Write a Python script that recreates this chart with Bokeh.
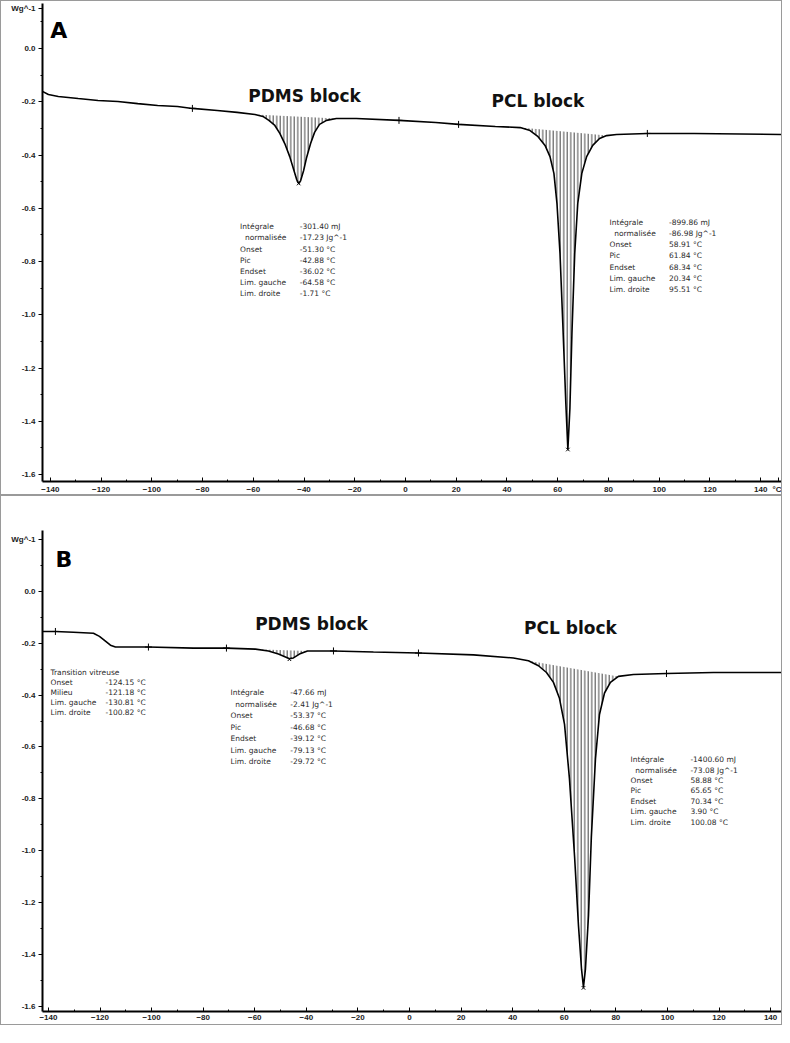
import numpy as np
from bokeh.plotting import figure
from bokeh.layouts import column
from bokeh.models import Range1d, FixedTicker, PrintfTickFormatter
from bokeh.core.properties import value
from bokeh.embed import file_html
from bokeh.resources import INLINE

# ---------------- Panel A data (temperature °C, heat flow W/g) ----------------
a_temp = [-143.13, -140.78, -136.87, -129.04, -121.21, -113.38, -105.54, -97.71, -89.88, -84.01,
          -74.22, -66.39, -59.34, -56.21, -53.86, -51.51, -49.55, -47.60, -45.64, -44.07,
          -42.90, -42.11, -41.33, -40.16, -38.98, -37.42, -35.85, -33.89, -31.15, -27.24,
          -19.41, -2.57, 11.92, 20.92, 35.41, 45.20, 49.10, 52.25, 55.00, 56.95,
          58.50, 59.70, 60.90, 62.00, 63.20, 64.00, 64.80, 65.60, 66.70, 67.90,
          69.50, 71.40, 73.80, 76.50, 79.30, 83.20, 95.33, 113.73, 148.96]
a_heat = [-0.161, -0.173, -0.180, -0.188, -0.195, -0.199, -0.207, -0.214, -0.218, -0.225,
          -0.233, -0.240, -0.248, -0.255, -0.270, -0.289, -0.319, -0.357, -0.406, -0.455,
          -0.492, -0.507, -0.496, -0.458, -0.409, -0.357, -0.315, -0.285, -0.270, -0.263,
          -0.263, -0.270, -0.278, -0.285, -0.293, -0.297, -0.308, -0.331, -0.364, -0.406,
          -0.469, -0.582, -0.770, -1.033, -1.333, -1.506, -1.352, -1.070, -0.770, -0.582,
          -0.469, -0.406, -0.364, -0.338, -0.327, -0.323, -0.319, -0.319, -0.323]
a_pdms_limits = [-59.4, -27.2]
a_pcl_limits = [45.1, 79.4]
a_marker_temp = [-84.01, -2.57, 20.92, 95.33]
a_marker_heat = [-0.225, -0.270, -0.285, -0.319]
a_peak_temp = [-42.11, 64.00]
a_peak_heat = [-0.507, -1.506]
a_pdms_names = ["Intégrale", "\u00a0\u00a0normalisée", "Onset", "Pic", "Endset", "Lim. gauche", "Lim. droite"]
a_pdms_values = ["-301.40 mJ", "-17.23 Jg^-1", "-51.30 °C", "-42.88 °C", "-36.02 °C", "-64.58 °C", "-1.71 °C"]
a_pcl_names = ["Intégrale", "\u00a0\u00a0normalisée", "Onset", "Pic", "Endset", "Lim. gauche", "Lim. droite"]
a_pcl_values = ["-899.86 mJ", "-86.98 Jg^-1", "58.91 °C", "61.84 °C", "68.34 °C", "20.34 °C", "95.51 °C"]

# ---------------- Panel B data ----------------
b_temp = [-142.33, -137.29, -130.31, -122.55, -120.22, -117.90, -115.96, -114.02, -101.23, -83.78,
          -70.98, -59.74, -54.70, -50.83, -48.11, -46.56, -45.01, -42.68, -39.58, -29.49,
          -13.98, 3.47, 24.80, 40.30, 46.10, 50.00, 53.10, 55.80, 58.10, 60.10,
          62.00, 64.00, 65.50, 66.70, 67.44, 68.20, 69.40, 70.50, 72.10, 73.65,
          75.60, 77.90, 81.00, 86.80, 99.63, 117.85, 145.0]
b_heat = [-0.155, -0.155, -0.158, -0.162, -0.174, -0.192, -0.208, -0.215, -0.215, -0.219,
          -0.219, -0.223, -0.230, -0.242, -0.253, -0.260, -0.257, -0.242, -0.230, -0.230,
          -0.234, -0.238, -0.245, -0.257, -0.268, -0.287, -0.313, -0.351, -0.411, -0.513,
          -0.721, -1.023, -1.287, -1.457, -1.525, -1.457, -1.249, -0.947, -0.645, -0.475,
          -0.392, -0.351, -0.328, -0.321, -0.317, -0.313, -0.313]
b_pdms_limits = [-59.8, -39.5]
b_pcl_limits = [46.0, 81.1]
b_marker_temp = [-137.29, -101.23, -70.98, -29.49, 3.47, 99.63]
b_marker_heat = [-0.155, -0.215, -0.219, -0.230, -0.238, -0.317]
b_peak_temp = [-46.56, 67.44]
b_peak_heat = [-0.262, -1.528]
b_tg_names = ["Transition vitreuse", "Onset", "Milieu", "Lim. gauche", "Lim. droite"]
b_tg_values = ["", "-124.15 °C", "-121.18 °C", "-130.81 °C", "-100.82 °C"]
b_pdms_names = ["Intégrale", "\u00a0\u00a0normalisée", "Onset", "Pic", "Endset", "Lim. gauche", "Lim. droite"]
b_pdms_values = ["-47.66 mJ", "-2.41 Jg^-1", "-53.37 °C", "-46.68 °C", "-39.12 °C", "-79.13 °C", "-29.72 °C"]
b_pcl_names = ["Intégrale", "\u00a0\u00a0normalisée", "Onset", "Pic", "Endset", "Lim. gauche", "Lim. droite"]
b_pcl_values = ["-1400.60 mJ", "-73.08 Jg^-1", "58.88 °C", "65.65 °C", "70.34 °C", "3.90 °C", "100.08 °C"]

x_ticks = [-140, -120, -100, -80, -60, -40, -20, 0, 20, 40, 60, 80, 100, 120, 140]
y_ticks = [-1.6, -1.4, -1.2, -1.0, -0.8, -0.6, -0.4, -0.2, 0.0]

TXT = "#2a2a2a"


def make_panel(temp, heat, xr, yr, height, left, top, bottom, unit_tick, limits,
               mtemp, mheat, ptemp, pheat, letter, letter_pos, titles, boxes, degc):
    p = figure(width=782, height=height, output_backend="svg", toolbar_location=None,
               x_range=Range1d(*xr), y_range=Range1d(*yr),
               min_border_left=left, min_border_right=0, min_border_top=top,
               min_border_bottom=bottom)
    p.outline_line_color = None
    p.grid.visible = False
    p.styles = {"border": "1px solid #9a9a9a", "box-sizing": "border-box"}

    xt = list(x_ticks)
    overrides = {}
    if degc:
        xt.append(147)
        overrides[147] = "°C"
    p.xaxis.ticker = FixedTicker(ticks=xt, minor_ticks=list(np.arange(-130, 150, 20)))
    p.xaxis.major_label_overrides = overrides
    yt = list(y_ticks) + [unit_tick]
    p.yaxis.ticker = FixedTicker(ticks=yt, minor_ticks=list(np.round(np.arange(-1.5, 0.25, 0.2), 1)))
    p.yaxis.formatter = PrintfTickFormatter(format="%.1f")
    p.yaxis.major_label_overrides = {unit_tick: "Wg^-1"}

    for ax in (p.xaxis[0], p.yaxis[0]):
        ax.axis_line_width = 2
        ax.axis_line_color = "black"
        ax.major_label_text_font = "Liberation Sans"
        ax.major_label_text_font_style = "bold"
        ax.major_label_text_font_size = "8px"
        ax.major_label_text_color = "#222222"
        ax.major_tick_line_color = "black"
        ax.minor_tick_line_color = "black"
    p.xaxis.major_tick_in = 4
    p.xaxis.major_tick_out = 0
    p.xaxis.minor_tick_in = 2
    p.xaxis.minor_tick_out = 0
    p.xaxis.major_label_standoff = 3
    p.yaxis.major_tick_in = 0
    p.yaxis.major_tick_out = 4
    p.yaxis.minor_tick_in = 0
    p.yaxis.minor_tick_out = 2
    p.yaxis.major_label_standoff = 3

    t = np.array(temp)
    h = np.array(heat)
    for lo, hi in limits:
        m = (t >= lo) & (t <= hi)
        p.patch(t[m], h[m], fill_color=None, line_color=None,
                hatch_pattern="vertical_line", hatch_color="#444444",
                hatch_scale=3.5, hatch_weight=1)
    p.line(temp, heat, line_color="black", line_width=1.6)
    p.scatter(mtemp, mheat, marker="cross", size=7, line_color="black", line_width=1)
    p.scatter(ptemp, pheat, marker="x", size=5, line_color="black", line_width=1)

    p.text(x=[letter_pos[0]], y=[letter_pos[1]], text=[letter], text_font=value("DejaVu Sans"),
           text_font_style="bold", text_font_size="22px", text_baseline="middle",
           text_align="left", text_color="black")
    for tx, ty, tt in titles:
        p.text(x=[tx], y=[ty], text=[tt], text_font=value("DejaVu Sans"), text_font_style="bold",
               text_font_size="17px", text_baseline="middle", text_align="center",
               text_color="#111111")
    for (nx, vx, y0, dy, names, vals) in boxes:
        ys = [y0 - i * dy for i in range(len(names))]
        p.text(x=[nx] * len(names), y=ys, text=names, text_font=value("DejaVu Sans"),
               text_font_size="7.5px", text_baseline="middle", text_align="left", text_color=TXT)
        p.text(x=[vx] * len(vals), y=ys, text=vals, text_font=value("DejaVu Sans"),
               text_font_size="7.5px", text_baseline="middle", text_align="left", text_color=TXT)
    return p


pa = make_panel(a_temp, a_heat, (-143.1, 149.0), (-1.626, 0.169), 495, 36, 2, 15, 0.15,
                [a_pdms_limits, a_pcl_limits], a_marker_temp, a_marker_heat,
                a_peak_temp, a_peak_heat, "A", (-140.0, 0.068),
                [(-39.8, -0.177, "PDMS block"), (52.2, -0.199, "PCL block")],
                [(-65.2, -41.7, -0.669, 0.042, a_pdms_names, a_pdms_values),
                 (80.4, 103.9, -0.653, 0.042, a_pcl_names, a_pcl_values)],
                True)

pb = make_panel(b_temp, b_heat, (-142.3, 145.0), (-1.619, 0.234), 530, 41, 34, 15, 0.2,
                [b_pdms_limits, b_pcl_limits], b_marker_temp, b_marker_heat,
                b_peak_temp, b_peak_heat, "B", (-137.3, 0.121),
                [(-38.0, -0.125, "PDMS block"), (62.4, -0.143, "PCL block")],
                [(-139.2, -117.9, -0.313, 0.039, b_tg_names, b_tg_values),
                 (-69.4, -46.2, -0.392, 0.044, b_pdms_names, b_pdms_values),
                 (85.7, 108.9, -0.649, 0.040, b_pcl_names, b_pcl_values)],
                False)

layout = column(pa, pb, spacing=0)
open("out.html", "w").write(file_html(layout, INLINE))
